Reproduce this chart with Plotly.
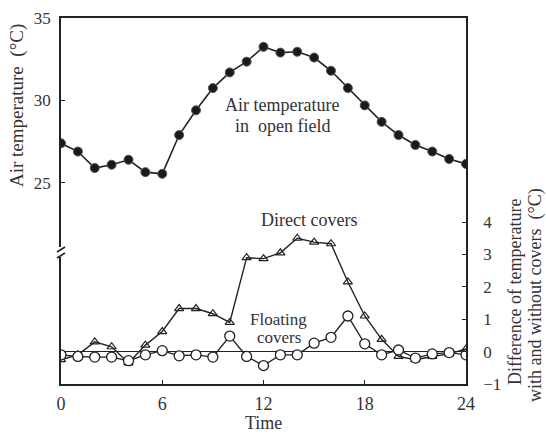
import plotly.graph_objects as go

hours = list(range(25))
open_field = [27.4, 26.9, 25.9, 26.1, 26.4, 25.65, 25.55, 27.9, 29.4, 30.75, 31.7, 32.35, 33.25,
              32.9, 32.95, 32.6, 31.8, 30.75, 29.7, 28.7, 27.9, 27.3, 26.9, 26.45, 26.15]
direct_covers = [-0.25, -0.1, 0.3, 0.15, -0.35, 0.2, 0.62, 1.33, 1.33, 1.17, 0.9, 2.9, 2.87,
                 3.05, 3.5, 3.38, 3.33, 2.15, 1.1, 0.38, -0.15, -0.25, -0.15, -0.07, 0.08]
floating_covers = [-0.1, -0.15, -0.17, -0.17, -0.28, -0.1, 0.03, -0.13, -0.1, -0.17, 0.48, -0.15, -0.43,
                   -0.1, -0.1, 0.26, 0.44, 1.1, 0.24, -0.1, 0.05, -0.2, -0.07, -0.03, -0.1]

x_ticks = [0, 6, 12, 18, 24]
left_ticks = [25, 30, 35]
right_ticks = [-1, 0, 1, 2, 3, 4]

INK = "#222222"
TXT = "#333333"
FONT = "Liberation Serif"

L, R, T, B = 61, 80, 18, 50
W, H = 546, 434
pw, ph = W - L - R, H - T - B


def px(x):
    return (x - L) / pw


def py(y):
    return (H - B - y) / ph


fig = go.Figure()
fig.add_trace(go.Scatter(
    x=hours, y=open_field, mode="lines+markers", yaxis="y",
    line=dict(color=INK, width=1.6),
    marker=dict(symbol="circle", size=9, color="#1a1a1a", line=dict(color="#555555", width=1)),
    showlegend=False))
fig.add_trace(go.Scatter(
    x=hours, y=direct_covers, mode="lines+markers", yaxis="y2",
    line=dict(color=INK, width=1.4),
    marker=dict(symbol="triangle-up-open", size=8, color=INK, line=dict(width=1.2)),
    showlegend=False))
fig.add_trace(go.Scatter(
    x=hours, y=floating_covers, mode="lines+markers", yaxis="y2",
    line=dict(color=INK, width=1.4),
    marker=dict(symbol="circle", size=10, color="white", line=dict(color=INK, width=1.3)),
    showlegend=False))

fig.update_layout(
    width=W, height=H,
    margin=dict(l=L, r=R, t=T, b=B),
    paper_bgcolor="white", plot_bgcolor="white",
    font=dict(family=FONT, size=17, color=TXT),
    xaxis=dict(range=[0, 24], tickvals=x_ticks, ticks="inside", ticklen=4, tickcolor=INK,
               showline=True, linecolor=INK, linewidth=1.5, mirror=True, showgrid=False,
               zeroline=False, tickfont=dict(size=18), ticklabelstandoff=3, automargin=False),
    yaxis=dict(range=[12.8, 35], tickvals=left_ticks, ticks="inside", ticklen=4, tickcolor=INK,
               showline=True, linecolor=INK, linewidth=1.5, showgrid=False, zeroline=False,
               tickfont=dict(size=17), ticklabelstandoff=5, automargin=False),
    yaxis2=dict(range=[-1, 10.3], tickvals=right_ticks, overlaying="y", side="right",
                ticks="inside", ticklen=4, tickcolor=INK, showline=True, linecolor=INK,
                linewidth=1.5, showgrid=False, zeroline=True, zerolinecolor=INK,
                zerolinewidth=1.3, tickfont=dict(size=17), ticklabelstandoff=12,
                tickformat="d", automargin=False),
)

# axis break on left axis
fig.add_shape(type="line", xref="paper", yref="paper", xsizemode="pixel", ysizemode="pixel",
              xanchor=0, yanchor=py(252), x0=0, x1=0, y0=-5, y1=5, line=dict(color="white", width=4))
for dy in (-4, 2):
    fig.add_shape(type="line", xref="paper", yref="paper", xsizemode="pixel", ysizemode="pixel",
                  xanchor=0, yanchor=py(252), x0=-4, x1=4, y0=dy - 2, y1=dy + 3,
                  line=dict(color=INK, width=1.6))

ann_font = dict(family=FONT, size=18, color=TXT)
small_font = dict(family=FONT, size=17, color=TXT)


def note(x, y, text, font, yref="y"):
    fig.add_annotation(x=x, y=y, xref="x", yref=yref, text=text, showarrow=False,
                       xanchor="center", yanchor="middle", font=font)


note(13.1, 29.7, "Air temperature", ann_font)
note(13.1, 28.45, "in  open field", ann_font)
note(14.7, 4.05, "Direct covers", ann_font, "y2")
note(12.9, 1.0, "Floating", small_font, "y2")
note(12.9, 0.45, "covers", small_font, "y2")


def page_text(x, y, text, size, angle=0):
    fig.add_annotation(x=px(x), y=py(y), xref="paper", yref="paper", text=text,
                       showarrow=False, textangle=angle, xanchor="center", yanchor="middle",
                       font=dict(family=FONT, size=size, color=TXT), borderpad=0)


page_text(263, 423, "Time", 18)
page_text(17, 106, "Air temperature  (°C)", 19, -90)
page_text(515, 292, "Difference of temperature", 18, -90)
page_text(535, 295, "with and without covers  (°C)", 18, -90)

fig.write_html("out.html", config={"displayModeBar": False},
               post_script="document.body.style.margin='0';document.body.style.overflow='hidden';")
